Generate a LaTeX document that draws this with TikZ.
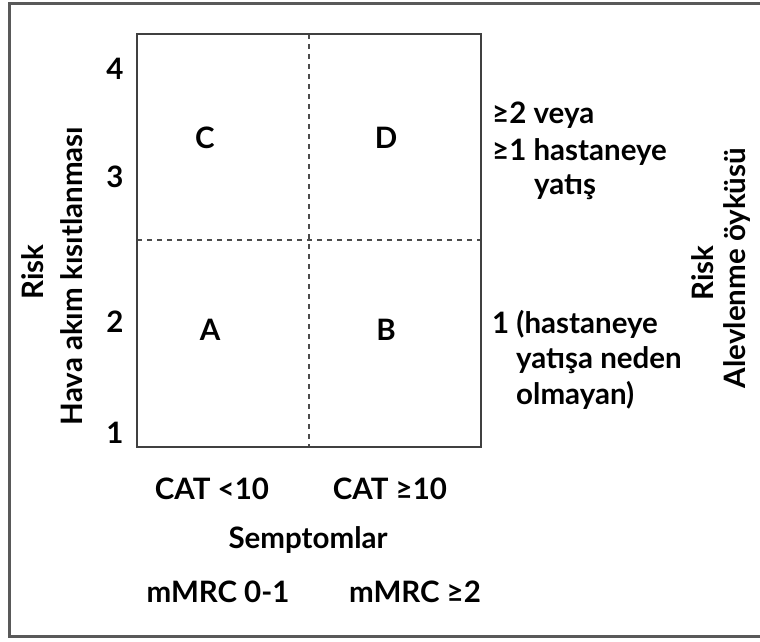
\documentclass[tikz,border=0pt]{standalone}
\usepackage{fontspec}
\setmainfont{Lato}[BoldFont={Lato Bold}]
\begin{document}
\begin{tikzpicture}[x=1pt,y=-1pt,
  lbl/.style={font=\bfseries\fontsize{29.5}{34}\selectfont, inner sep=0pt, text=black},
  frame/.style={draw=black!65, line width=3pt},
  grid/.style={draw=black!75, line width=2.4pt},
  dashline/.style={draw=black!70, line width=1.4pt, dash pattern=on 5pt off 5pt}]
\useasboundingbox (0,0) rectangle (760,642);
\clip (0,0) rectangle (760,642);
\fill[white] (0,0) rectangle (760,642);
\draw[frame] (9,4) rectangle (775,636);
% inner box
\coordinate (tl) at (137,34);
\coordinate (br) at (481,447);
\coordinate (vt) at (309,34);
\coordinate (vb) at (309,447);
\coordinate (hl) at (137,240);
\coordinate (hr) at (481,240);
\draw[dashline] (vt) -- (vb);
\draw[dashline] (hl) -- (hr);
\draw[grid] (tl) rectangle (br);
% quadrant labels
\node[lbl] (C) at (205,138) {C};
\node[lbl] (D) at (386,138) {D};
\node[lbl] (A) at (210,330) {A};
\node[lbl] (B) at (386,330) {B};
% y ticks
\node[lbl] (y4) at (115,69) {4};
\node[lbl] (y3) at (115,177) {3};
\node[lbl] (y2) at (115,322) {2};
\node[lbl] (y1) at (115,433) {1};
% left axis title
\node[lbl, rotate=90] (lrisk) at (33,272) {Risk};
\node[lbl, rotate=90] (lhava) at (72,276) {Hava akım kısıtlanması};
% right texts
\node[lbl, anchor=west] (r1) at (492,115) {≥2 veya};
\node[lbl, anchor=west] (r2) at (492,152) {≥1 hastaneye};
\node[lbl, anchor=west] (r3) at (534,187) {yatış};
\node[lbl, anchor=west] (r4) at (492,324) {1 (hastaneye};
\node[lbl, anchor=west] (r5) at (516,360) {yatışa neden};
\node[lbl, anchor=west] (r6) at (516,395) {olmayan)};
% right axis title
\node[lbl, rotate=90] (rrisk) at (703,273) {Risk};
\node[lbl, rotate=90] (ralev) at (737,268) {Alevlenme öyküsü};
% bottom
\node[lbl] (cat1) at (212,489) {CAT <10};
\node[lbl] (cat2) at (390,489) {CAT ≥10};
\node[lbl] (sem) at (308,540) {Semptomlar};
\node[lbl] (m1) at (218,592) {mMRC 0-1};
\node[lbl] (m2) at (415,592) {mMRC ≥2};
\end{tikzpicture}
\end{document}
